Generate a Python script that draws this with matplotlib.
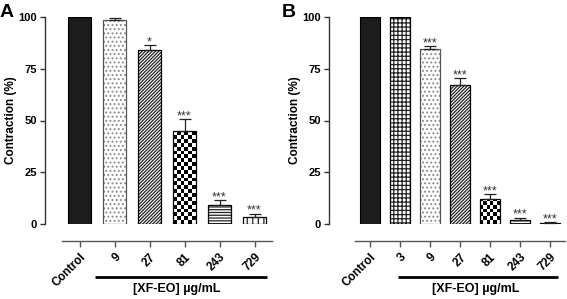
import numpy as np
import matplotlib
matplotlib.use("Agg")
import matplotlib.pyplot as plt
from matplotlib.transforms import blended_transform_factory

plt.rcParams['font.family'] = ['Liberation Sans', 'DejaVu Sans']
plt.rcParams['font.weight'] = 'bold'
plt.rcParams['hatch.linewidth'] = 0.9

# ---- data ----
labels_A = ["Control", "9", "27", "81", "243", "729"]
values_A = [100, 98.5, 84, 45, 9, 3.5]
errors_A = [0, 1.0, 2.5, 5.5, 2.5, 1.5]
stars_A = ["", "", "*", "***", "***", "***"]
patterns_A = ["solid", "dots", "diag", "check", "hlines", "vlines"]

labels_B = ["Control", "3", "9", "27", "81", "243", "729"]
values_B = [100, 100, 84.5, 67, 12, 2, 0.5]
errors_B = [0, 0, 1.5, 3.5, 2.5, 1.0, 0.3]
stars_B = ["", "", "***", "***", "***", "***", "***"]
patterns_B = ["solid", "grid", "dots", "diag", "check", "hlines", "hlines"]

yticks = [0, 25, 50, 75, 100]
xlabel = "[XF-EO] µg/mL"
ylabel = "Contraction (%)"

W, H = 567, 299
PT = 0.72  # points per pixel at dpi 100
fig = plt.figure(figsize=(W / 100, H / 100), dpi=100)

hatches = {"dots": "....", "diag": "//////////", "hlines": "------", "vlines": "|||",
           "grid": "++++"}


def draw_panel(rect, labels, values, errors, stars, patterns, yoff, letter,
               letter_x, br, txt_x):
    ax = fig.add_axes(rect)
    n = len(values)
    x = np.arange(n)
    w = 0.65
    for i in range(n):
        p = patterns[i]
        if p == "solid":
            ax.bar(x[i], values[i], w, color="#1c1c1c", edgecolor="black",
                   linewidth=0.8, zorder=2)
            continue
        if p == "check":
            ax.bar(x[i], values[i], w, color="white", linewidth=0, zorder=2)
            nx = 6
            sy = 1.85
            ny = int(np.ceil(values[i] / sy))
            board = (np.add.outer(np.arange(ny), np.arange(nx)) % 2).astype(float)
            im = ax.imshow(board, cmap="gray", vmin=0, vmax=1,
                           extent=(x[i] - w / 2, x[i] + w / 2, 0, ny * sy),
                           origin="lower", aspect="auto", interpolation="nearest",
                           zorder=2.5)
            rectp = ax.bar(x[i], values[i], w, fill=False, linewidth=0)[0]
            im.set_clip_path(rectp)
        else:
            col = "#8a8a8a" if p == "dots" else "#222222"
            ax.bar(x[i], values[i], w, color="white", edgecolor=col,
                   hatch=hatches[p], linewidth=0, zorder=2)
        ec = "#555555" if p == "dots" else "black"
        ax.bar(x[i], values[i], w, fill=False, edgecolor=ec,
               linewidth=0.9, zorder=3)
    for i in range(n):
        if errors[i] > 0:
            ax.errorbar(x[i], values[i], yerr=[[0], [errors[i]]], fmt="none",
                        ecolor="#222222", elinewidth=0.9, capsize=6 * PT,
                        capthick=0.9, zorder=4)
        if stars[i]:
            ax.text(x[i], values[i] + errors[i] - 1.5, stars[i], ha="center",
                    va="bottom", fontsize=9, color="#333333", fontweight="normal")
    ax.set_xlim(-0.5, n - 0.5)
    ax.set_ylim(0, 100)
    for s in ["top", "right"]:
        ax.spines[s].set_visible(False)
    ax.spines["left"].set_position(("outward", yoff * PT))
    ax.spines["bottom"].set_position(("outward", 17 * PT))
    ax.spines["left"].set_color("#333333")
    ax.spines["bottom"].set_color("#555555")
    ax.spines["left"].set_linewidth(1.0)
    ax.spines["bottom"].set_linewidth(1.0)
    ax.tick_params(axis="y", length=5 * PT, width=1.0, color="#333333", pad=2)
    ax.tick_params(axis="x", length=6 * PT, width=1.0, color="#555555", pad=3)
    ax.set_yticks(yticks)
    ax.set_yticklabels([str(t) for t in yticks], fontsize=8, fontweight="bold")
    ax.set_xticks(x)
    ax.set_xticklabels(labels, fontsize=8.5, fontweight="bold")
    plt.setp(ax.get_xticklabels(), rotation=45, ha="right",
             rotation_mode="anchor")
    ax.set_ylabel(ylabel, fontsize=8.5, fontweight="bold", labelpad=1)
    tr = blended_transform_factory(ax.transData, ax.transAxes)
    ax.plot(br, [-0.256, -0.256], color="black", linewidth=2.0,
            transform=tr, clip_on=False, solid_capstyle="butt")
    ax.text(txt_x, -0.315, xlabel, transform=tr, ha="center", va="center",
            fontsize=9, fontweight="bold")
    fig.text(letter_x, (H - 17) / H, letter, fontsize=14, fontweight="bold",
             ha="left", va="baseline")
    return ax


bot = (H - 224) / H
top = (H - 17) / H
draw_panel([62 / W, bot, 210 / W, top - bot], labels_A, values_A, errors_A,
           stars_A, patterns_A, 17, "A", 0 / W, [0.43, 5.37], 2.77)
draw_panel([355 / W, bot, 210 / W, top - bot], labels_B, values_B, errors_B,
           stars_B, patterns_B, 26, "B", 282 / W, [0.93, 6.27], 3.53)

fig.savefig("out.png", dpi=100)
